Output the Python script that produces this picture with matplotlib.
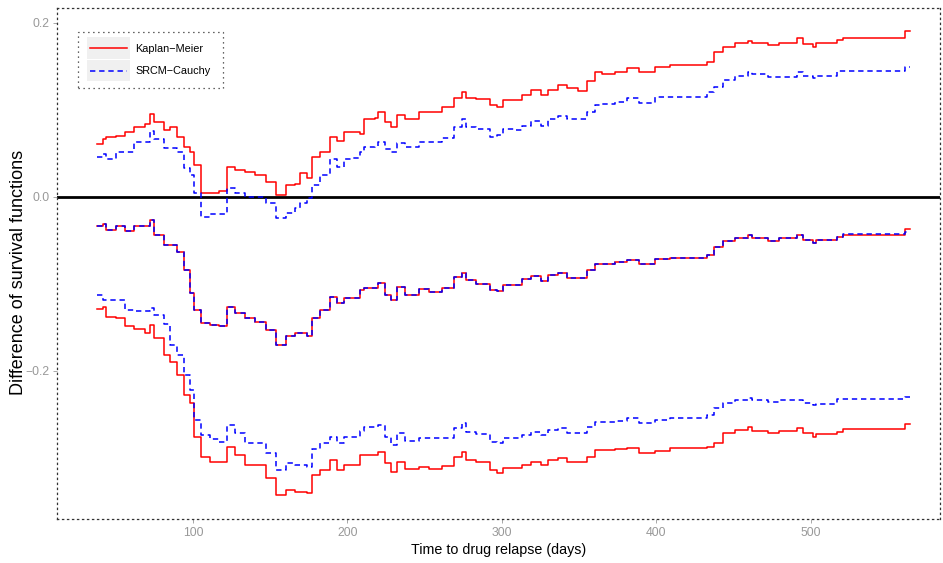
import matplotlib
matplotlib.use("Agg")
import matplotlib.pyplot as plt
from matplotlib.legend_handler import HandlerLine2D
from matplotlib.patches import Rectangle

plt.rcParams['font.family'] = ['Liberation Sans', 'DejaVu Sans']

# event times (days) where the step curves change
days = [38, 42, 44, 50, 56, 62, 69, 72, 75, 81,
        85, 90, 94, 98, 101, 105, 111, 117, 122, 127,
        134, 140, 147, 154, 160, 166, 169, 174, 177, 182,
        189, 193, 198, 202, 208, 211, 218, 220, 224, 228,
        232, 237, 246, 253, 261, 269, 274, 277, 283, 292,
        297, 301, 308, 313, 319, 325, 330, 336, 342, 349,
        355, 360, 365, 373, 381, 389, 399, 409, 433, 437,
        443, 451, 459, 462, 472, 479, 491, 495, 501, 503,
        517, 521, 561, 564]

# Kaplan-Meier: upper band, estimate, lower band
km_upper = [0.061, 0.066, 0.069, 0.070, 0.074, 0.080, 0.084, 0.095, 0.086, 0.077,
            0.080, 0.069, 0.057, 0.051, 0.037, 0.005, 0.005, 0.007, 0.034, 0.031,
            0.029, 0.025, 0.017, 0.002, 0.014, 0.015, 0.028, 0.022, 0.046, 0.052,
            0.069, 0.064, 0.074, 0.075, 0.072, 0.089, 0.091, 0.097, 0.086, 0.080,
            0.094, 0.089, 0.097, 0.098, 0.103, 0.114, 0.121, 0.114, 0.113, 0.106,
            0.103, 0.111, 0.111, 0.117, 0.123, 0.117, 0.123, 0.128, 0.125, 0.122,
            0.133, 0.144, 0.141, 0.144, 0.148, 0.144, 0.149, 0.152, 0.155, 0.166,
            0.172, 0.177, 0.179, 0.177, 0.174, 0.177, 0.182, 0.176, 0.172, 0.177,
            0.180, 0.183, 0.190, 0.190]
km_est = [-0.034, -0.031, -0.038, -0.033, -0.039, -0.034, -0.034, -0.026, -0.044, -0.055,
          -0.055, -0.063, -0.084, -0.110, -0.130, -0.145, -0.147, -0.148, -0.126, -0.133,
          -0.139, -0.144, -0.153, -0.170, -0.160, -0.156, -0.156, -0.160, -0.139, -0.130,
          -0.115, -0.122, -0.116, -0.116, -0.107, -0.105, -0.105, -0.099, -0.113, -0.118,
          -0.103, -0.113, -0.106, -0.109, -0.105, -0.092, -0.087, -0.095, -0.100, -0.107,
          -0.108, -0.101, -0.101, -0.094, -0.091, -0.097, -0.090, -0.087, -0.093, -0.093,
          -0.084, -0.077, -0.077, -0.075, -0.072, -0.077, -0.071, -0.070, -0.067, -0.057,
          -0.051, -0.047, -0.044, -0.047, -0.051, -0.047, -0.044, -0.049, -0.053, -0.049,
          -0.046, -0.044, -0.037, -0.037]
km_lower = [-0.129, -0.126, -0.138, -0.139, -0.148, -0.152, -0.156, -0.147, -0.162, -0.182,
            -0.190, -0.205, -0.228, -0.237, -0.276, -0.299, -0.305, -0.305, -0.287, -0.297,
            -0.308, -0.308, -0.323, -0.343, -0.337, -0.339, -0.339, -0.340, -0.320, -0.314,
            -0.302, -0.314, -0.308, -0.308, -0.297, -0.297, -0.297, -0.293, -0.306, -0.316,
            -0.305, -0.313, -0.310, -0.313, -0.309, -0.299, -0.293, -0.302, -0.305, -0.314,
            -0.317, -0.311, -0.311, -0.308, -0.305, -0.308, -0.302, -0.300, -0.305, -0.305,
            -0.299, -0.291, -0.291, -0.290, -0.289, -0.294, -0.292, -0.289, -0.287, -0.283,
            -0.271, -0.268, -0.264, -0.269, -0.271, -0.269, -0.266, -0.271, -0.276, -0.272,
            -0.270, -0.267, -0.261, -0.261]

# SRCM-Cauchy: upper band, estimate, lower band
sr_upper = [0.046, 0.049, 0.043, 0.052, 0.051, 0.063, 0.063, 0.076, 0.066, 0.056,
            0.056, 0.052, 0.033, 0.025, 0.005, -0.023, -0.020, -0.020, 0.010, 0.005,
            0.000, 0.000, -0.007, -0.024, -0.018, -0.013, -0.007, -0.001, 0.014, 0.025,
            0.043, 0.034, 0.044, 0.045, 0.052, 0.057, 0.059, 0.063, 0.055, 0.051,
            0.062, 0.057, 0.063, 0.063, 0.068, 0.080, 0.089, 0.080, 0.078, 0.069,
            0.071, 0.078, 0.077, 0.082, 0.087, 0.082, 0.089, 0.093, 0.090, 0.089,
            0.098, 0.105, 0.107, 0.109, 0.114, 0.108, 0.115, 0.115, 0.120, 0.126,
            0.134, 0.139, 0.144, 0.141, 0.138, 0.138, 0.144, 0.139, 0.137, 0.139,
            0.145, 0.145, 0.149, 0.149]
sr_est = [-0.034, -0.031, -0.038, -0.033, -0.039, -0.034, -0.034, -0.026, -0.044, -0.055,
          -0.055, -0.063, -0.084, -0.110, -0.130, -0.145, -0.147, -0.148, -0.126, -0.133,
          -0.139, -0.144, -0.153, -0.170, -0.160, -0.156, -0.156, -0.160, -0.139, -0.130,
          -0.115, -0.122, -0.116, -0.116, -0.107, -0.105, -0.105, -0.099, -0.113, -0.118,
          -0.103, -0.113, -0.106, -0.109, -0.105, -0.092, -0.087, -0.095, -0.100, -0.107,
          -0.108, -0.101, -0.101, -0.094, -0.091, -0.097, -0.090, -0.087, -0.093, -0.093,
          -0.084, -0.077, -0.077, -0.075, -0.072, -0.077, -0.071, -0.070, -0.067, -0.057,
          -0.051, -0.047, -0.044, -0.047, -0.051, -0.047, -0.044, -0.049, -0.053, -0.049,
          -0.046, -0.043, -0.040, -0.040]
sr_lower = [-0.113, -0.118, -0.118, -0.118, -0.130, -0.131, -0.131, -0.128, -0.136, -0.146,
            -0.170, -0.182, -0.205, -0.222, -0.256, -0.274, -0.278, -0.282, -0.262, -0.271,
            -0.283, -0.283, -0.294, -0.314, -0.306, -0.308, -0.308, -0.310, -0.290, -0.283,
            -0.276, -0.283, -0.276, -0.276, -0.269, -0.264, -0.264, -0.262, -0.276, -0.285,
            -0.271, -0.280, -0.277, -0.277, -0.277, -0.266, -0.260, -0.270, -0.272, -0.282,
            -0.283, -0.277, -0.277, -0.274, -0.270, -0.274, -0.268, -0.266, -0.271, -0.271,
            -0.264, -0.259, -0.259, -0.257, -0.254, -0.260, -0.256, -0.254, -0.251, -0.243,
            -0.237, -0.233, -0.231, -0.233, -0.236, -0.233, -0.233, -0.237, -0.239, -0.238,
            -0.232, -0.232, -0.230, -0.230]

labels = ['Kaplan\u2212Meier', 'SRCM\u2212Cauchy']


class KeyHandler(HandlerLine2D):
    # ggplot-style grey key background behind each legend line
    def create_artists(self, legend, orig_handle, xdescent, ydescent,
                       width, height, fontsize, trans):
        bg = Rectangle((-xdescent - 2, -ydescent - 5), width + 4, height + 10,
                       facecolor='#F0F0F0', edgecolor='none', transform=trans)
        arts = super().create_artists(legend, orig_handle, xdescent, ydescent,
                                      width, height, fontsize, trans)
        return [bg] + arts


fig = plt.figure(figsize=(9.43, 5.63), dpi=100)
ax = fig.add_axes([0.0604, 0.0782, 0.9364, 0.9076])

ax.axhline(0, color='black', lw=2.0, zorder=1)

red = dict(color='#FF0000', lw=1.1, drawstyle='steps-post')
blue = dict(color='#0000FF', lw=1.1, ls=(0, (3.5, 2.5)), drawstyle='steps-post')

l1, = ax.plot(days, km_upper, **red)
ax.plot(days, km_est, **red)
ax.plot(days, km_lower, **red)
l2, = ax.plot(days, sr_upper, **blue)
ax.plot(days, sr_est, **blue)
ax.plot(days, sr_lower, **blue)

ax.set_xlim(12, 583.5)
ax.set_ylim(-0.370, 0.217)
ax.set_xticks([100, 200, 300, 400, 500])
ax.set_yticks([-0.2, 0.0, 0.2])
ax.set_yticklabels(['\u22120.2', '0.0', '0.2'])
ax.tick_params(colors='#999999', labelsize=8.8, length=3, width=0.6, pad=2.5)

for sp in ax.spines.values():
    sp.set_linestyle((0, (1, 3)))
    sp.set_color('#333333')
    sp.set_linewidth(0.9)

ax.set_xlabel('Time to drug relapse (days)', fontsize=10.3, color='black', labelpad=3)
ax.set_ylabel('Difference of survival functions', fontsize=13, color='black')
ax.yaxis.set_label_coords(-0.034, 0.483)

leg = ax.legend([l1, l2], labels, loc='upper left', bbox_to_anchor=(0.0238, 0.953),
                borderaxespad=0, fontsize=7.8, handlelength=3.4, handletextpad=0.8,
                borderpad=1.1, labelspacing=1.15, fancybox=False, framealpha=1,
                handler_map={l1: KeyHandler(), l2: KeyHandler()})
fr = leg.get_frame()
fr.set_linestyle((0, (1, 3)))
fr.set_edgecolor('#333333')
fr.set_linewidth(0.9)

fig.savefig('out.png', dpi=100)
